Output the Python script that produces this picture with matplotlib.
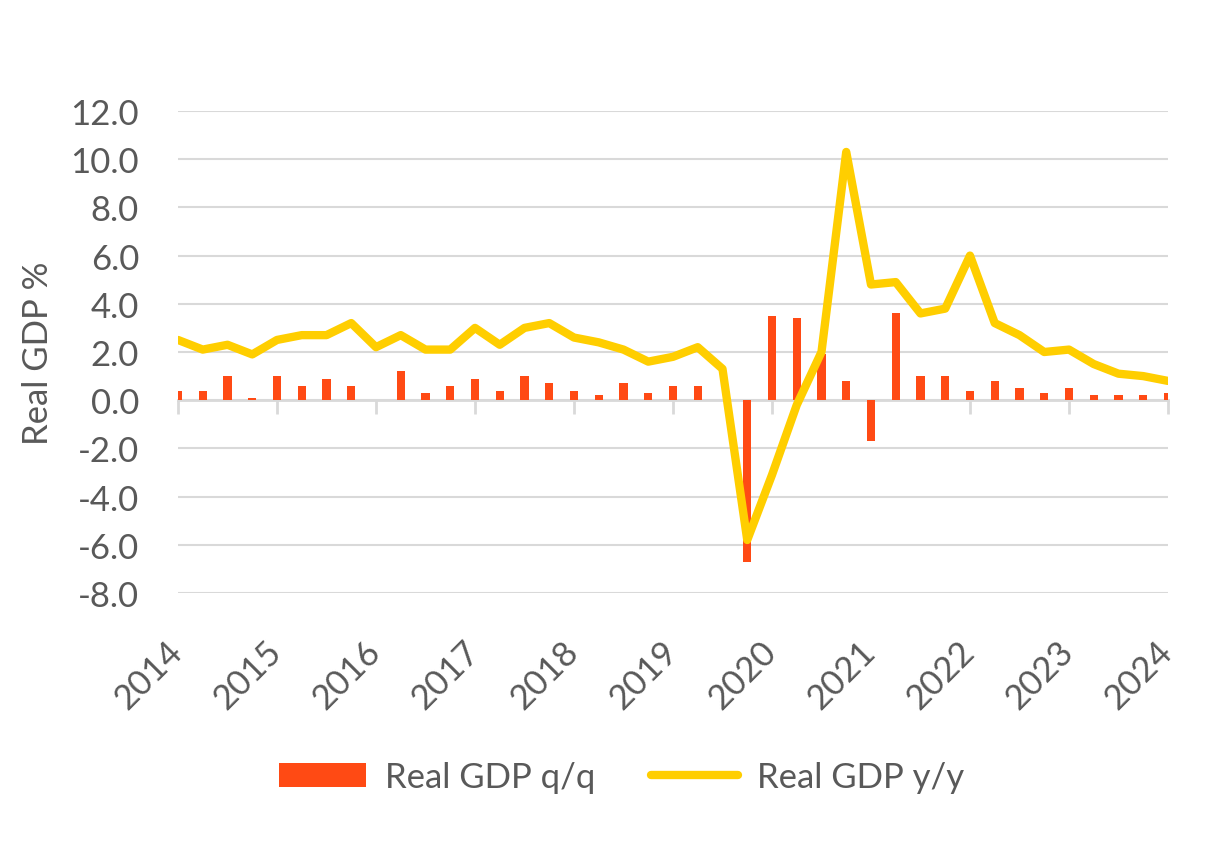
import numpy as np
import pandas as pd
import matplotlib
matplotlib.use('Agg')
import matplotlib.pyplot as plt
import matplotlib.transforms as mtransforms

plt.rcParams['font.family'] = ['Lato', 'DejaVu Sans']

quarters = pd.period_range('2014Q1', '2024Q1', freq='Q').astype(str).tolist()
gdp_qq = [0.4, 0.4, 1.0, 0.1, 1.0, 0.6, 0.9, 0.6, 0.0, 1.2,
          0.3, 0.6, 0.9, 0.4, 1.0, 0.7, 0.4, 0.2, 0.7, 0.3,
          0.6, 0.6, 0.0, -6.7, 3.5, 3.4, 1.9, 0.8, -1.7, 3.6,
          1.0, 1.0, 0.4, 0.8, 0.5, 0.3, 0.5, 0.2, 0.2, 0.2, 0.3]
gdp_yy = [2.5, 2.1, 2.3, 1.9, 2.5, 2.7, 2.7, 3.2, 2.2, 2.7,
          2.1, 2.1, 3.0, 2.3, 3.0, 3.2, 2.6, 2.4, 2.1, 1.6,
          1.8, 2.2, 1.3, -5.8, -3.1, -0.2, 2.0, 10.3, 4.8, 4.9,
          3.6, 3.8, 6.0, 3.2, 2.7, 2.0, 2.1, 1.5, 1.1, 1.0, 0.8]
yticks = [-8, -6, -4, -2, 0, 2, 4, 6, 8, 10, 12]

txt = '#595959'
grid = '#d9d9d9'

x = np.arange(len(quarters))
year_idx = [i for i, q in enumerate(quarters) if q.endswith('Q1')]
year_lab = [quarters[i][:4] for i in year_idx]

fig = plt.figure(figsize=(12.31, 8.45), dpi=100)
ax = fig.add_axes([0.1446, 0.297, 0.8042, 0.5705])

bars = ax.bar(x, gdp_qq, width=0.33, color='#FF4A14', label='Real GDP q/q', zorder=2)
line, = ax.plot(x, gdp_yy, color='#FFCE00', lw=6, solid_joinstyle='round',
                solid_capstyle='round', label='Real GDP y/y', zorder=3)

ax.set_xlim(0, len(quarters) - 1)
ax.set_ylim(-8, 12)
ax.set_yticks(yticks)
ax.set_yticklabels([f'{v:.1f}' for v in yticks])
ax.yaxis.grid(True, color=grid, lw=1.5, zorder=0)
ax.set_axisbelow(True)
for s in ax.spines.values():
    s.set_visible(False)
ax.tick_params(axis='y', length=0, pad=28, labelsize=25, labelcolor=txt)
ax.set_xticks(year_idx)
ax.set_xticklabels(year_lab, rotation=45, ha='right', va='top',
                   rotation_mode='anchor')
ax.tick_params(axis='x', length=0, pad=14, labelsize=25, labelcolor=txt)
shift = mtransforms.ScaledTranslation(-12 / 100, -22 / 100, fig.dpi_scale_trans)
for lab in ax.get_xticklabels():
    lab.set_transform(lab.get_transform() + shift)
ax.set_ylabel('Real GDP %', fontsize=25, color=txt, labelpad=12)

# zero axis line with year tick marks
zero_ax = ax.secondary_xaxis(8 / 20)
zero_ax.set_xticks(year_idx)
zero_ax.set_xticklabels([])
zero_ax.tick_params(direction='out', length=10, width=2, color=grid)
zero_ax.spines['bottom'].set_color(grid)
zero_ax.spines['bottom'].set_linewidth(2)

fig.legend(handles=[bars, line], loc='center', bbox_to_anchor=(0.505, 0.079),
           ncol=2, frameon=False, fontsize=25, labelcolor=txt,
           handlelength=2.5, handleheight=0.7, handletextpad=0.55,
           columnspacing=1.6)

fig.savefig('out.png', dpi=100)
